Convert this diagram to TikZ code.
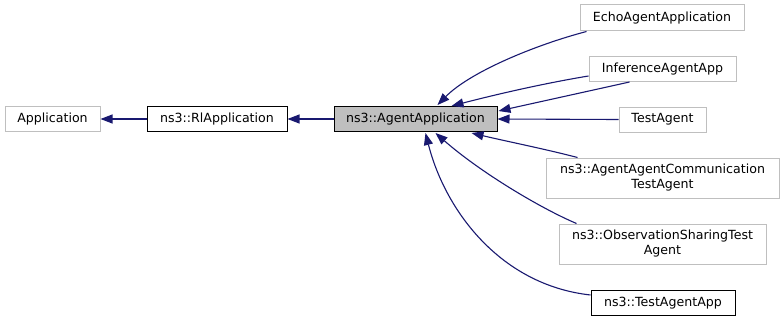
\documentclass[tikz,border=0pt]{standalone}
\usepackage{fontspec}
\setmainfont{DejaVu Sans}
\usetikzlibrary{arrows.meta,calc}
\definecolor{edgeblue}{HTML}{191970}
\definecolor{extgray}{HTML}{BFBFBF}
\definecolor{curfill}{HTML}{BFBFBF}
\begin{document}
\begin{tikzpicture}[x=1pt,y=-1pt,
  cls/.style={draw, line width=1pt, inner sep=0pt, align=center,
    font=\fontsize{12.6}{15}\selectfont, minimum height=25pt},
  extcls/.style={cls, draw=extgray},
  doccls/.style={cls, draw=black},
  curcls/.style={cls, draw=black, fill=curfill},
  inherit/.style={draw=edgeblue, line width=1.1pt,
    -{Triangle[length=12pt,width=9pt]}}]
\useasboundingbox (0,0) rectangle (784,321);

% base classes
\node[extcls, minimum width=95pt] (app) at (52.5,119) {Application};
\node[doccls, minimum width=140pt] (rl) at (217,119) {ns3::RlApplication};
\node[curcls, minimum width=163pt] (agent) at (415.5,119) {ns3::AgentApplication};

% derived classes
\node[extcls, minimum width=164pt, minimum height=26pt] (echo) at (662,18) {EchoAgentApplication};
\node[extcls, minimum width=147pt] (infer) at (662.5,69) {InferenceAgentApp};
\node[extcls, minimum width=87pt] (test) at (662.5,119.5) {TestAgent};
\node[extcls, minimum width=233pt, minimum height=40pt] (comm) at (662.5,178)
  {ns3::AgentAgentCommunication\\TestAgent};
\node[extcls, minimum width=207pt, minimum height=40pt] (obs) at (662.5,244)
  {ns3::ObservationSharingTest\\Agent};
\node[doccls, minimum width=144pt] (tapp) at (663,303) {ns3::TestAgentApp};

% inheritance edges
\draw[inherit] (rl.west) -- (app.east);
\draw[inherit] (agent.west) -- (rl.east);
\draw[inherit] ($(echo.south west)+(7,0)$) .. controls (535,45) and (470,72)
  .. ($(agent.north west)+(104,-1)$);
\draw[inherit] ($(infer.west)+(0,7)$) .. controls (540,84) and (490,96)
  .. ($(agent.north west)+(118,0)$);
\draw[inherit] ($(infer.south west)+(41,0)$) .. controls (580,93) and (530,104)
  .. ($(agent.east)+(1,-8)$);
\draw[inherit] (test.west) -- (agent.east);
\draw[inherit] ($(comm.north west)+(32,0)$) .. controls (545,149) and (505,141)
  .. ($(agent.south west)+(138,1)$);
\draw[inherit] ($(obs.north west)+(18,0)$) .. controls (540,208) and (480,172)
  .. ($(agent.south west)+(102,1)$);
\draw[inherit] ($(tapp.north west)+(0,5)$) .. controls (500,285) and (445,210)
  .. ($(agent.south west)+(92,1)$);
\end{tikzpicture}
\end{document}
